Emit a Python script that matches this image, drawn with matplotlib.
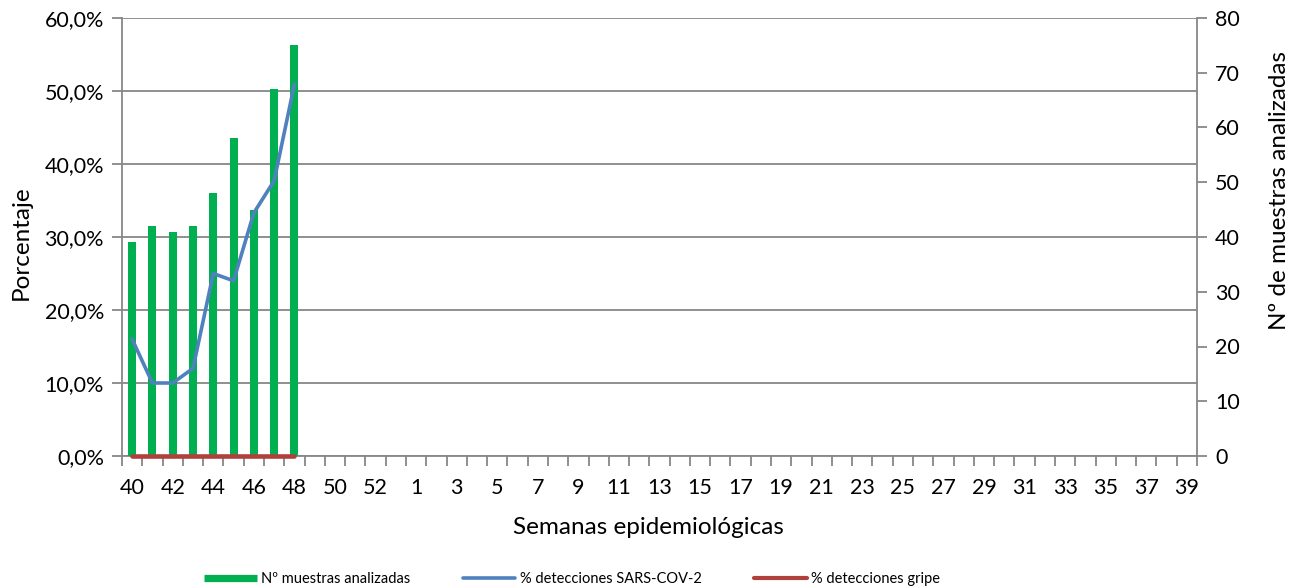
import matplotlib.pyplot as plt
import numpy as np
from matplotlib.lines import Line2D
from matplotlib.ticker import FuncFormatter

plt.rcParams['font.family'] = ['Lato', 'DejaVu Sans']

# semanas epidemiologicas 40-53 y 1-39
semanas = [str(w) for w in list(range(40, 54)) + list(range(1, 40))]

# datos semanas 40-48
muestras = [39, 42, 41, 42, 48, 58, 45, 67, 75]
sars_cov2 = [16.0, 10.0, 10.0, 12.0, 25.0, 24.0, 33.3, 37.7, 50.9]
gripe = [0, 0, 0, 0, 0, 0, 0, 0, 0]

verde = '#00B050'
azul = '#4F81BD'
rojo = '#B0403C'
gris = '#878787'

W, H = 1299, 588
fig = plt.figure(figsize=(W / 100, H / 100), dpi=100)
ax = fig.add_axes([122 / W, 1 - 456 / H, (1197 - 122) / W, (456 - 18) / H])
ax2 = ax.twinx()   # n de muestras (eje derecho)
ax3 = ax.twinx()   # lineas en porcentaje

x = np.arange(len(semanas))
n = len(muestras)

# eje izquierdo: porcentaje + rejilla
ax.set_xlim(-0.5, len(semanas) - 0.5)
ax.set_ylim(0, 60)
ax.set_yticks(range(0, 61, 10))
ax.yaxis.set_major_formatter(FuncFormatter(lambda v, p: f"{v:.1f}%".replace('.', ',')))
ax.yaxis.grid(True, color=gris, linewidth=1.3)
ax.set_axisbelow(True)
ax.tick_params(axis='y', length=7, width=1.3, color=gris, labelsize=15.5, pad=6)

ax.set_xticks(x[::2])
ax.set_xticklabels(semanas[::2])
ax.set_xticks(np.arange(-0.5, len(semanas), 1), minor=True)
ax.tick_params(axis='x', which='major', length=0, labelsize=15.5, pad=16)
ax.tick_params(axis='x', which='minor', length=7, width=1.3, color=gris)

for s in ['top', 'right']:
    ax.spines[s].set_visible(False)
for s in ['left', 'bottom']:
    ax.spines[s].set_color(gris)
    ax.spines[s].set_linewidth(1.3)

# barras
ax2.bar(x[:n], muestras, width=0.4, color=verde)
ax2.set_ylim(0, 80)
ax2.set_yticks(range(0, 81, 10))
ax2.tick_params(axis='y', length=7, width=1.3, color=gris, labelsize=15.5, pad=6)
for s in ['top', 'left', 'bottom']:
    ax2.spines[s].set_visible(False)
ax2.spines['right'].set_color(gris)
ax2.spines['right'].set_linewidth(1.3)

# lineas
ax3.set_ylim(0, 60)
ax3.plot(x[:n], sars_cov2, color=azul, linewidth=2.6, solid_joinstyle='miter')
ax3.plot(x[:n], gripe, color=rojo, linewidth=3.3, solid_capstyle='round', clip_on=False)
ax3.set_axis_off()

# titulos de ejes
fig.text(21 / W, 1 - 243 / H, 'Porcentaje', rotation=90, ha='center', va='center', fontsize=17.5)
fig.text(1280 / W, 1 - 190 / H, 'Nº de muestras analizadas', rotation=90,
         ha='center', va='center', fontsize=17.5)
fig.text(648 / W, 1 - 528 / H, 'Semanas epidemiológicas', ha='center', va='center', fontsize=17.5)

# leyenda
handles = [Line2D([], [], color=verde, linewidth=5.2, solid_capstyle='butt'),
           Line2D([], [], color=azul, linewidth=2.6, solid_capstyle='round'),
           Line2D([], [], color=rojo, linewidth=3.0, solid_capstyle='round')]
labels = ['Nº muestras analizadas', '% detecciones SARS-COV-2', '% detecciones gripe']
fig.legend(handles, labels, loc='center', bbox_to_anchor=(572 / W, 1 - 579 / H), ncol=3,
           frameon=False, fontsize=10.5, handlelength=3.6, handletextpad=0.3,
           columnspacing=3.6, borderpad=0, borderaxespad=0)

fig.savefig('out.png', dpi=100)
